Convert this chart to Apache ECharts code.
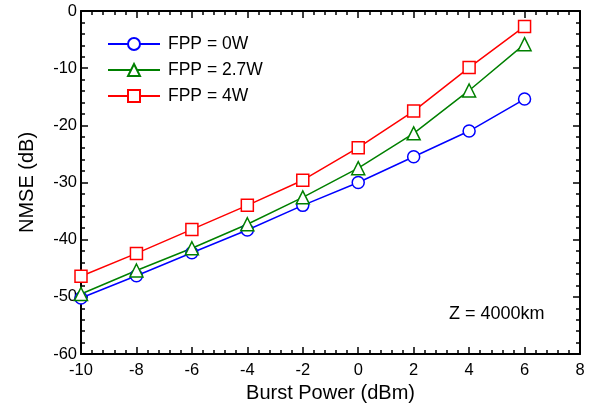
<!DOCTYPE html>
<html>
<head>
<meta charset="utf-8">
<script src="https://cdn.jsdelivr.net/npm/echarts@6/dist/echarts.min.js"></script>
<style>
html,body{margin:0;padding:0;background:#fff;}
#c{width:605px;height:414px;}
</style>
</head>
<body>
<div id="c"></div>
<script>
const burstPower = [-10, -8, -6, -4, -2, 0, 2, 4, 6];
const nmse0W   = [-50.2, -46.3, -42.3, -38.3, -34.0, -30.0, -25.5, -21.0, -15.4];
const nmse2p7W = [-49.5, -45.4, -41.5, -37.3, -32.6, -27.5, -21.4, -13.9, -5.8];
const nmse4W   = [-46.4, -42.4, -38.2, -34.0, -29.6, -23.9, -17.5, -9.9, -2.7];
const seriesNames = ['FPP = 0W', 'FPP = 2.7W', 'FPP = 4W'];
const annotation = 'Z = 4000km';

const FONT = '"Liberation Sans", Arial, Helvetica, sans-serif';
const pair = arr => burstPower.map((x, i) => [x, arr[i]]);

const chart = echarts.init(document.getElementById('c'), null, {renderer: 'canvas'});

function axisCommon(showLabel) {
  return {
    axisLine: {show: true, onZero: false, lineStyle: {color: '#000', width: 2}},
    axisTick: {show: true, inside: true, length: 7, lineStyle: {color: '#000', width: 1.5}},
    minorTick: {show: true, splitNumber: 5, length: 4, lineStyle: {color: '#000', width: 1.5}},
    splitLine: {show: false},
    minorSplitLine: {show: false},
    axisLabel: {show: showLabel, color: '#000', fontSize: 16.5, fontFamily: FONT}
  };
}

const mk = (name, data, color, symbol, size) => ({
  name, type: 'line', data: pair(data),
  symbol, symbolSize: size,
  lineStyle: {color, width: 1.5},
  itemStyle: {color: '#fff', borderColor: color, borderWidth: 1.5},
  color: color,
  emphasis: {disabled: true},
  animation: false
});

chart.setOption({
  animation: false,
  grid: {left: 81, right: 25, top: 11, bottom: 60},
  legend: {
    data: seriesNames,
    orient: 'vertical',
    left: 102, top: 30,
    itemWidth: 52, itemHeight: 15, itemGap: 8,
    textStyle: {color: '#000', fontSize: 17.5, fontFamily: FONT, padding: [0, 0, 0, 3]}
  },
  xAxis: [
    Object.assign(axisCommon(true), {
      type: 'value', min: -10, max: 8, interval: 2, position: 'bottom',
      name: 'Burst Power (dBm)', nameLocation: 'middle', nameGap: 27,
      nameTextStyle: {color: '#000', fontSize: 20, fontFamily: FONT},
      axisLabel: {show: true, color: '#000', fontSize: 16.5, fontFamily: FONT, margin: 8}
    }),
    Object.assign(axisCommon(false), {
      type: 'value', min: -10, max: 8, interval: 2, position: 'top'
    })
  ],
  yAxis: [
    Object.assign(axisCommon(true), {
      type: 'value', min: -60, max: 0, interval: 10, position: 'left',
      name: 'NMSE (dB)', nameLocation: 'middle', nameGap: 44,
      nameTextStyle: {color: '#000', fontSize: 20, fontFamily: FONT},
      axisLabel: {show: true, color: '#000', fontSize: 16.5, fontFamily: FONT, margin: 4}
    }),
    Object.assign(axisCommon(false), {
      type: 'value', min: -60, max: 0, interval: 10, position: 'right'
    })
  ],
  series: [
    mk(seriesNames[0], nmse0W, '#0000ff', 'circle', 12),
    mk(seriesNames[1], nmse2p7W, '#008000', 'triangle', 13),
    mk(seriesNames[2], nmse4W, '#ff0000', 'rect', 12)
  ],
  graphic: [{
    type: 'text', left: 449, top: 305,
    style: {text: annotation, fill: '#000', font: '18px ' + FONT}
  }]
});
</script>
</body>
</html>
